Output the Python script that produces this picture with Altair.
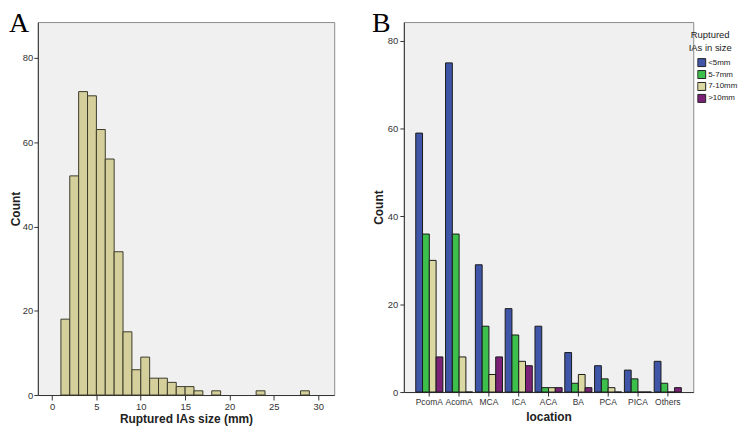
import altair as alt
import pandas as pd

# ---- Panel A: histogram of ruptured IA size (mm) ----
bin_start = [1, 2, 3, 4, 5, 6, 7, 8, 9, 10, 11, 12, 13, 14, 15, 16, 18, 23, 28]
bin_count = [18, 52, 72, 71, 63, 56, 34, 15, 6, 9, 4, 4, 3, 2, 2, 1, 1, 1, 1]
bin_width = 1
size_ticks = [0, 5, 10, 15, 20, 25, 30]
count_ticks = [0, 20, 40, 60, 80]

# ---- Panel B: location by size group ----
locations = ["PcomA", "AcomA", "MCA", "ICA", "ACA", "BA", "PCA", "PICA", "Others"]
groups = ["<5mm", "5-7mm", "7-10mm", ">10mm"]
lt5 = [59, 75, 29, 19, 15, 9, 6, 5, 7]
s5_7 = [36, 36, 15, 13, 1, 2, 3, 3, 2]
s7_10 = [30, 8, 4, 7, 1, 4, 1, 0, 0]
gt10 = [8, 0, 8, 6, 1, 1, 0, 0, 1]
group_colors = ["#3f56a8", "#3cbf4b", "#dcd8a2", "#7b2278"]

FONT = "Liberation Sans, Arial"
SERIF = "Liberation Serif, Times New Roman, serif"

hist_df = pd.DataFrame({
    "start": bin_start,
    "end": [s + bin_width for s in bin_start],
    "count": bin_count,
})

rows = []
for series, name in zip([lt5, s5_7, s7_10, gt10], groups):
    for loc, v in zip(locations, series):
        rows.append({"location": loc, "group": name, "count": v})
loc_df = pd.DataFrame(rows)

letter_a = pd.DataFrame({"t": ["A"]})
letter_b = pd.DataFrame({"t": ["B"]})
leg_title = pd.DataFrame({"t": ["Ruptured\nIAs in size"]})

W_A, H_A = 298, 375
W_B, H_B = 291, 372

bars_a = alt.Chart(hist_df).mark_bar(
    fill="#d5d09b", stroke="#3b3b2b", strokeWidth=1
).encode(
    x=alt.X("start:Q", scale=alt.Scale(domain=[-1.6, 31.8], nice=False, zero=False),
            axis=alt.Axis(values=size_ticks, title="Ruptured IAs size (mm)", grid=False,
                          tickSize=5, labelPadding=2, titlePadding=2)),
    x2="end:Q",
    y=alt.Y("count:Q", scale=alt.Scale(domain=[0, 88.5], nice=False),
            axis=alt.Axis(values=count_ticks, title="Count", grid=False,
                          tickSize=4, labelPadding=1, titlePadding=0)),
    y2=alt.datum(0),
)
txt_a = alt.Chart(letter_a).mark_text(
    font=SERIF, fontSize=28, align="left", baseline="alphabetic", color="black"
).encode(x=alt.value(-29), y=alt.value(10), text="t:N")

panel_a = alt.layer(bars_a, txt_a).properties(width=W_A, height=H_A)

bars_b = alt.Chart(loc_df).mark_bar(stroke="#1a1a1a", strokeWidth=1).encode(
    x=alt.X("location:N", sort=locations,
            scale=alt.Scale(paddingInner=0.09, paddingOuter=0.4),
            axis=alt.Axis(title="location", labelAngle=0, tickSize=4, labelFontSize=8.5,
                          labelPadding=2, titlePadding=5)),
    xOffset=alt.XOffset("group:N", sort=groups, scale=alt.Scale(paddingInner=0, paddingOuter=0)),
    y=alt.Y("count:Q", scale=alt.Scale(domain=[0, 84.3], nice=False),
            axis=alt.Axis(values=count_ticks, title="Count", grid=False,
                          tickSize=4, labelPadding=2, titlePadding=2)),
    color=alt.Color("group:N", sort=groups,
                    scale=alt.Scale(domain=groups, range=group_colors),
                    legend=alt.Legend(title=None, orient="none", legendX=663, legendY=35,
                                      padding=0,
                                      symbolType="square", symbolSize=64,
                                      symbolStrokeColor="#222", symbolStrokeWidth=1,
                                      labelFont=FONT, labelFontSize=8, labelColor="#222",
                                      rowPadding=0, clipHeight=11.5, labelOffset=2)),
)
txt_b = alt.Chart(letter_b).mark_text(
    font=SERIF, fontSize=28, align="left", baseline="alphabetic", color="black"
).encode(x=alt.value(-32), y=alt.value(10), text="t:N")
txt_leg = alt.Chart(leg_title).mark_text(
    font=FONT, fontSize=9.5, align="center", baseline="top", color="#222",
    lineBreak="\n", lineHeight=13
).encode(x=alt.value(308), y=alt.value(8), text="t:N")

panel_b = alt.layer(bars_b, txt_b, txt_leg).properties(width=W_B, height=H_B)

chart = alt.hconcat(panel_a, panel_b, spacing=36).properties(
    padding={"left": 0, "top": 0, "right": 0, "bottom": 0}
).configure_view(
    fill="#f0f0f0", stroke="#8a8a8a", strokeWidth=1
).configure_axis(
    labelFont=FONT, labelFontSize=9.5, labelColor="#333",
    tickColor="#333", domainColor="#333",
    titleFont=FONT, titleFontSize=12, titleFontWeight="bold", titleColor="#222",
).configure_axisX(grid=False).configure_axisY(grid=False)

chart.save("out.html", embed_options={"renderer": "svg", "actions": False})
